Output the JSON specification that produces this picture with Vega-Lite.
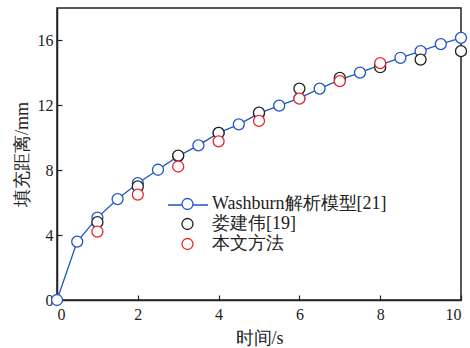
{
  "$schema": "https://vega.github.io/schema/vega-lite/v6.json",
  "width": 404,
  "height": 292,
  "autosize": {"type": "none"},
  "padding": {"left": 57, "top": 8, "right": 9, "bottom": 48},
  "background": "white",
  "config": {
    "font": "Liberation Serif",
    "view": {"stroke": "#222", "strokeWidth": 1.5},
    "axis": {
      "grid": false,
      "domainColor": "#222",
      "domainWidth": 1.5,
      "tickColor": "#222",
      "tickSize": -5,
      "tickWidth": 1.2,
      "labelFontSize": 16,
      "labelColor": "#222",
      "labelFont": "Liberation Serif",
      "titleFont": "Liberation Serif",
      "titleFontSize": 18,
      "titleFontWeight": "normal",
      "titleColor": "#222"
    },
    "legend": {
      "labelFont": "Liberation Serif"
    }
  },
  "data": {
    "values": [
      {"series": "Washburn解析模型[21]", "t": 0, "d": 0},
      {"series": "Washburn解析模型[21]", "t": 0.5, "d": 3.6},
      {"series": "Washburn解析模型[21]", "t": 1, "d": 5.08},
      {"series": "Washburn解析模型[21]", "t": 1.5, "d": 6.22},
      {"series": "Washburn解析模型[21]", "t": 2, "d": 7.2},
      {"series": "Washburn解析模型[21]", "t": 2.5, "d": 8.03},
      {"series": "Washburn解析模型[21]", "t": 3, "d": 8.87},
      {"series": "Washburn解析模型[21]", "t": 3.5, "d": 9.53},
      {"series": "Washburn解析模型[21]", "t": 4, "d": 10.3},
      {"series": "Washburn解析模型[21]", "t": 4.5, "d": 10.83},
      {"series": "Washburn解析模型[21]", "t": 5, "d": 11.5},
      {"series": "Washburn解析模型[21]", "t": 5.5, "d": 11.98},
      {"series": "Washburn解析模型[21]", "t": 6, "d": 12.45},
      {"series": "Washburn解析模型[21]", "t": 6.5, "d": 13.03},
      {"series": "Washburn解析模型[21]", "t": 7, "d": 13.57},
      {"series": "Washburn解析模型[21]", "t": 7.5, "d": 14.02},
      {"series": "Washburn解析模型[21]", "t": 8, "d": 14.5},
      {"series": "Washburn解析模型[21]", "t": 8.5, "d": 14.93},
      {"series": "Washburn解析模型[21]", "t": 9, "d": 15.34},
      {"series": "Washburn解析模型[21]", "t": 9.5, "d": 15.77},
      {"series": "Washburn解析模型[21]", "t": 10, "d": 16.16},
      {"series": "娄建伟[19]", "t": 1, "d": 4.8},
      {"series": "娄建伟[19]", "t": 2, "d": 7.0},
      {"series": "娄建伟[19]", "t": 3, "d": 8.9},
      {"series": "娄建伟[19]", "t": 4, "d": 10.3},
      {"series": "娄建伟[19]", "t": 5, "d": 11.55},
      {"series": "娄建伟[19]", "t": 6, "d": 13.03},
      {"series": "娄建伟[19]", "t": 7, "d": 13.69},
      {"series": "娄建伟[19]", "t": 8, "d": 14.35},
      {"series": "娄建伟[19]", "t": 9, "d": 14.82},
      {"series": "娄建伟[19]", "t": 10, "d": 15.34},
      {"series": "本文方法", "t": 1, "d": 4.22},
      {"series": "本文方法", "t": 2, "d": 6.5},
      {"series": "本文方法", "t": 3, "d": 8.23},
      {"series": "本文方法", "t": 4, "d": 9.78},
      {"series": "本文方法", "t": 5, "d": 11.04},
      {"series": "本文方法", "t": 6, "d": 12.41},
      {"series": "本文方法", "t": 7, "d": 13.49},
      {"series": "本文方法", "t": 8, "d": 14.6}
    ]
  },
  "encoding": {
    "x": {
      "field": "t",
      "type": "quantitative",
      "scale": {"domain": [0, 10], "nice": false},
      "axis": {"title": "时间/s", "values": [0, 2, 4, 6, 8, 10], "labelPadding": 11, "titlePadding": 7}
    },
    "y": {
      "field": "d",
      "type": "quantitative",
      "scale": {"domain": [0, 18], "nice": false},
      "axis": {"title": "填充距离/mm", "values": [0, 4, 8, 12, 16], "labelPadding": 9, "titlePadding": 6}
    }
  },
  "layer": [
    {
      "transform": [{"filter": "datum.series === 'Washburn解析模型[21]'"}],
      "mark": {"type": "line", "strokeWidth": 1.3},
      "encoding": {
        "stroke": {
          "field": "series",
          "type": "nominal",
          "scale": {"domain": ["Washburn解析模型[21]"], "range": ["#2255c4"]},
          "legend": {
            "title": null,
            "orient": "none",
            "legendX": 110,
            "legendY": 176,
            "padding": 0,
            "symbolType": "stroke",
            "symbolSize": 1600,
            "symbolStrokeWidth": 1.3,
            "labelExpr": "''",
            "labelOffset": 0
          }
        }
      }
    },
    {
      "mark": {"type": "point", "filled": false, "fill": "white", "size": 121, "strokeWidth": 1.3, "opacity": 1},
      "encoding": {
        "color": {
          "field": "series",
          "type": "nominal",
          "sort": null,
          "scale": {"domain": ["Washburn解析模型[21]", "娄建伟[19]", "本文方法"], "range": ["#2255c4", "#222222", "#e8282c"]},
          "legend": {
            "title": null,
            "orient": "none",
            "legendX": 121.5,
            "legendY": 187,
            "padding": 0,
            "symbolSize": 121,
            "symbolStrokeWidth": 1.3,
            "symbolFillColor": "white",
            "labelFontSize": 18,
            "labelColor": "#222",
            "labelOffset": 15.5,
            "rowPadding": 2,
            "labelLimit": 300
          }
        }
      }
    }
  ]
}
